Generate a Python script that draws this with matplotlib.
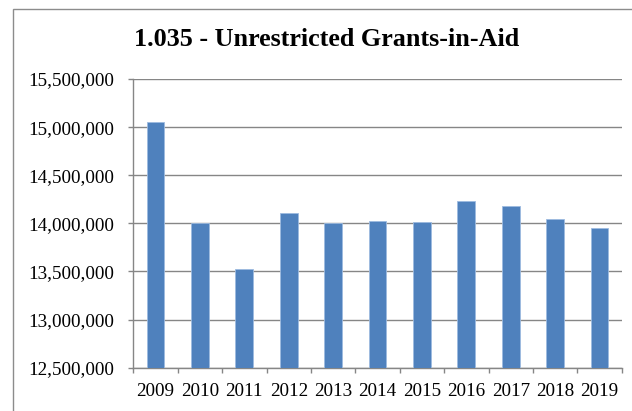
import matplotlib.pyplot as plt
from matplotlib.patches import Rectangle
from matplotlib.ticker import FuncFormatter

# Data
years  = ['2009', '2010', '2011', '2012', '2013', '2014',
          '2015', '2016', '2017', '2018', '2019']
values = [15050000, 14000000, 13530000, 14105000, 14005000, 14028000,
          14010000, 14230000, 14183000, 14042000, 13952000]

plt.rcParams['font.family'] = ['Liberation Serif', 'DejaVu Serif']

fig = plt.figure(figsize=(6.32, 4.11), dpi=100)
ax = fig.add_axes([0.211, 0.1054, 0.7727, 0.7024])

# Chart border (cropped on the right and bottom)
fig.patches.append(Rectangle((12.5 / 632, -0.1), 1.2, 1.1 - 9 / 411,
                             transform=fig.transFigure, fill=False,
                             edgecolor='#8c8c8c', lw=1.0))

x = list(range(len(years)))
ax.bar(x, values, width=0.4, color='#4F81BD', edgecolor='#9dbbe0',
       linewidth=0.6, zorder=3)

ax.set_ylim(12500000, 15500000)
ax.set_xlim(-0.5, len(years) - 0.5)
ax.set_yticks(range(12500000, 15500001, 500000))
ax.yaxis.set_major_formatter(FuncFormatter(lambda v, p: f'{int(v):,}'))
ax.set_xticks(x)
ax.set_xticklabels(years)
ax.set_xticks([i - 0.5 for i in range(len(years) + 1)], minor=True)

ax.grid(axis='y', color='#868686', lw=1.0, zorder=0)
ax.tick_params(axis='x', which='major', length=0, labelsize=13.8, pad=11)
ax.tick_params(axis='x', which='minor', length=3.6, color='#868686', width=1)
ax.tick_params(axis='y', length=3.6, color='#868686', width=1,
               labelsize=13.8, pad=10)

for s in ['top', 'right']:
    ax.spines[s].set_visible(False)
for s in ['left', 'bottom']:
    ax.spines[s].set_color('#868686')
    ax.spines[s].set_linewidth(1.0)

fig.text(0.517, 1 - 40 / 411, '1.035 - Unrestricted Grants-in-Aid',
         ha='center', va='center', fontsize=18.8, fontweight='bold')

fig.savefig('out.png', dpi=100)
